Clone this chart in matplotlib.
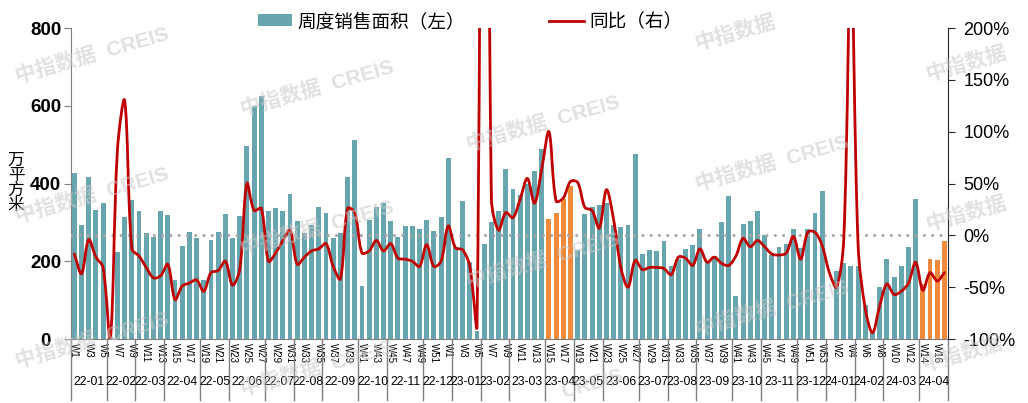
import matplotlib
matplotlib.use("Agg")
import matplotlib.pyplot as plt
from matplotlib.path import Path
from matplotlib.patches import PathPatch, Patch
from matplotlib.lines import Line2D
import numpy as np

plt.rcParams['font.family'] = ['Liberation Sans', 'Noto Sans CJK SC', 'DejaVu Sans']

# week labels: 2022 W1-W52, 2023 W1-W53, 2024 W1-W17
semanas = ([f"W{i}" for i in range(1, 53)] + [f"W{i}" for i in range(1, 54)]
           + [f"W{i}" for i in range(1, 18)])

meses = ["22-01", "22-02", "22-03", "22-04", "22-05", "22-06", "22-07", "22-08",
         "22-09", "22-10", "22-11", "22-12", "23-01", "23-02", "23-03", "23-04",
         "23-05", "23-06", "23-07", "23-08", "23-09", "23-10", "23-11", "23-12",
         "24-01", "24-02", "24-03", "24-04"]
semanasPorMes = [5, 4, 4, 5, 4, 5, 4, 4, 5, 4, 5, 4,
                 4, 4, 5, 4, 4, 5, 4, 4, 5, 4, 5, 4,
                 4, 4, 5, 4]

# 周度销售面积 (万平方米)
area = [427, 294, 416, 332, 349, 5, 225, 315, 357, 329, 273, 263, 329, 319, 153, 239,
        274, 260, 151, 254,
        275, 321, 259, 316, 496, 600, 624, 329, 336, 329, 374, 303, 272, 293, 339, 324,
        260, 272, 416, 512, 136,
        306, 340, 350, 303, 262, 290, 290, 284, 305, 277, 315, 466, 237, 356, 198, 20,
        244, 301, 329, 438,
        387, 371, 400, 432, 489, 308, 323, 361, 394, 229, 321, 340, 344, 350, 293, 289,
        293, 476, 218, 230,
        227, 252, 189, 207, 231, 242, 282, 196, 213, 302, 368, 110, 297, 303, 330, 267,
        215, 236, 245, 283,
        233, 284, 323, 380, 0, 175, 195, 189, 189, 87, 15, 135, 207, 159, 189, 237,
        359, 141, 206, 203, 252]

# 同比 (%)
yoy = [-18, -37, -4, -21, -31, -100, 83, 130, -13, -20, -31, -41, -39, -28, -62, -49,
       -46, -43, -54, -36,
       -34, -25, -48, -33, 50, 24, 26, -25, -17, -5, 5, -28, -21, -15, -13, -8,
       -30, -42, 26, 22, -17,
       -15, -5, -15, -8, -22, -23, -25, -30, -9, -30, -25, 9, -12, -14, -30, -87,
       1000, 35, 5, 22,
       17, 35, 55, 31, 64, 100, 33, 36, 52, 51, 27, 24, 7, 44, 15, -31,
       -50, -24, -33, -31,
       -31, -32, -38, -21, -22, -29, -13, -26, -21, -27, -29, -20, -3, -11, -5, -11,
       -18, -19, -17, -1,
       -23, 3, 3, -10, -36, -50, -4, 270, -10, -71, -94, -68, -47, -57, -54, -46,
       -26, -53, -36, -44, -36]

# weeks of the current month (April) highlighted
destaque = list(range(66, 70)) + list(range(118, 122))

corBarra = "#67a6ae"
corDestaque = "#f08a3c"
corLinha = "#c00000"

n = len(area)
x = np.arange(n)

fig = plt.figure(figsize=(10.28, 4.03), dpi=100)
ax = fig.add_axes([0.0688, 0.1588, 0.8534, 0.7717])
ax2 = ax.twinx()

cores = [corDestaque if i in destaque else corBarra for i in range(n)]
ax.bar(x, area, width=0.68, color=cores, zorder=2)

ax.set_xlim(-0.5, n - 0.5)
ax.set_ylim(0, 800)
ax.set_yticks([0, 200, 400, 600, 800])
ax2.set_ylim(-100, 200)
ax2.set_yticks([-100, -50, 0, 50, 100, 150, 200])
ax2.set_yticklabels([f"{v}%" for v in [-100, -50, 0, 50, 100, 150, 200]])

for a in (ax, ax2):
    a.spines['top'].set_visible(False)
ax.spines['left'].set_color('#808080')
ax.spines['bottom'].set_color('#808080')
ax.spines['right'].set_visible(False)
ax2.spines['left'].set_visible(False)
ax2.spines['bottom'].set_visible(False)
ax2.spines['right'].set_color('#262626')

# left labels are centred under each other, as in the original
ax.tick_params(axis='y', direction='out', length=5, color='#808080', labelsize=13.5, pad=13)
for t in ax.get_yticklabels():
    t.set_fontweight('bold')
    t.set_horizontalalignment('center')
ax2.tick_params(axis='y', direction='out', length=5, color='#262626', labelsize=13, pad=6)

# week tick labels, every other week
ax.set_xticks(x[::2])
ax.set_xticklabels(semanas[::2], rotation=270, fontsize=7)
ax.tick_params(axis='x', length=0, pad=3)

# month labels and separators
trans = ax.get_xaxis_transform()
inicio = 0
ax.plot([-0.5, -0.5], [0, -0.196], transform=trans, color='#7f7f7f', lw=1, clip_on=False)
for mes, k in zip(meses, semanasPorMes):
    fim = inicio + k
    ax.text((inicio + fim) / 2 - 0.5, -0.138, mes, transform=trans, ha='center',
            va='center', fontsize=8.7)
    ax.plot([fim - 0.5, fim - 0.5], [0, -0.196], transform=trans, color='#7f7f7f',
            lw=1, clip_on=False)
    inicio = fim

# zero line of the right axis
ax2.axhline(0, color='#a6a6a6', lw=2.2, ls=(0, (0.01, 2.7)), dash_capstyle='round', zorder=2)

# smoothed line (bezier, excel style) built from the yoy points
larg = fig.get_figwidth() * fig.dpi * ax.get_position().width
alt = fig.get_figheight() * fig.dpi * ax.get_position().height
sx = larg / n
sy = alt / 300.0
pts = np.column_stack([x * sx, np.array(yoy, dtype=float) * sy])

def tangente(i):
    if i == 0:
        return pts[1] - pts[0], 0.0, 1.0
    if i == n - 1:
        return pts[-1] - pts[-2], 1.0, 0.0
    d0 = np.hypot(*(pts[i] - pts[i - 1]))
    d1 = np.hypot(*(pts[i + 1] - pts[i]))
    return pts[i + 1] - pts[i - 1], d0 / (d0 + d1), d1 / (d0 + d1)

verts = [pts[0]]
codes = [Path.MOVETO]
for i in range(n - 1):
    t0, a0, b0 = tangente(i)
    t1, a1, b1 = tangente(i + 1)
    c1 = pts[i] + t0 * b0 / 3.0
    c2 = pts[i + 1] - t1 * a1 / 3.0
    verts += [c1, c2, pts[i + 1]]
    codes += [Path.CURVE4] * 3
verts = np.array(verts)
verts[:, 0] /= sx
verts[:, 1] /= sy
curva = PathPatch(Path(verts, codes), fill=False, edgecolor=corLinha, lw=2,
                  transform=ax2.transData, zorder=3, capstyle='round', joinstyle='round')
ax2.add_patch(curva)

# y label
fig.text(16 / 1028, 1 - 183 / 403, "万\n平\n方\n米", ha='center', va='center',
         fontsize=12, linespacing=1.0)

# legend
handles = [Patch(facecolor=corBarra, edgecolor='none'),
           Line2D([], [], color=corLinha, lw=2)]
fig.legend(handles, ["周度销售面积（左）", "同比（右）"], loc='center',
           bbox_to_anchor=(470 / 1028, 1 - 22 / 403), ncol=2, frameon=False,
           fontsize=13.4, handlelength=1.85, handleheight=0.6, handletextpad=0.3,
           columnspacing=4.5)

# watermark (the pieces at the edges only show part of the text)
marcas = [(92, 55, "中指数据  CREIS"), (92, 195, "中指数据  CREIS"),
          (92, 340, "中指数据  CREIS"), (317, 88, "中指数据  CREIS"),
          (317, 228, "中指数据  CREIS"), (317, 368, "中指数据  CREIS"),
          (543, 123, "中指数据  CREIS"), (543, 260, "中指数据  CREIS"),
          (592, 384, "CREIS"), (735, 33, "中指数据"), (772, 163, "中指数据  CREIS"),
          (772, 308, "中指数据  CREIS"), (966, 64, "中指数据"), (966, 214, "中指数据"),
          (962, 354, "中指数据")]
for mx, my, txt in marcas:
    fig.text(mx / 1028, 1 - my / 403, txt, ha='center', va='center',
             rotation=16, fontsize=15, fontweight='bold', color='#c8c8c8', alpha=0.55,
             zorder=10)

fig.savefig("out.png", dpi=100)
